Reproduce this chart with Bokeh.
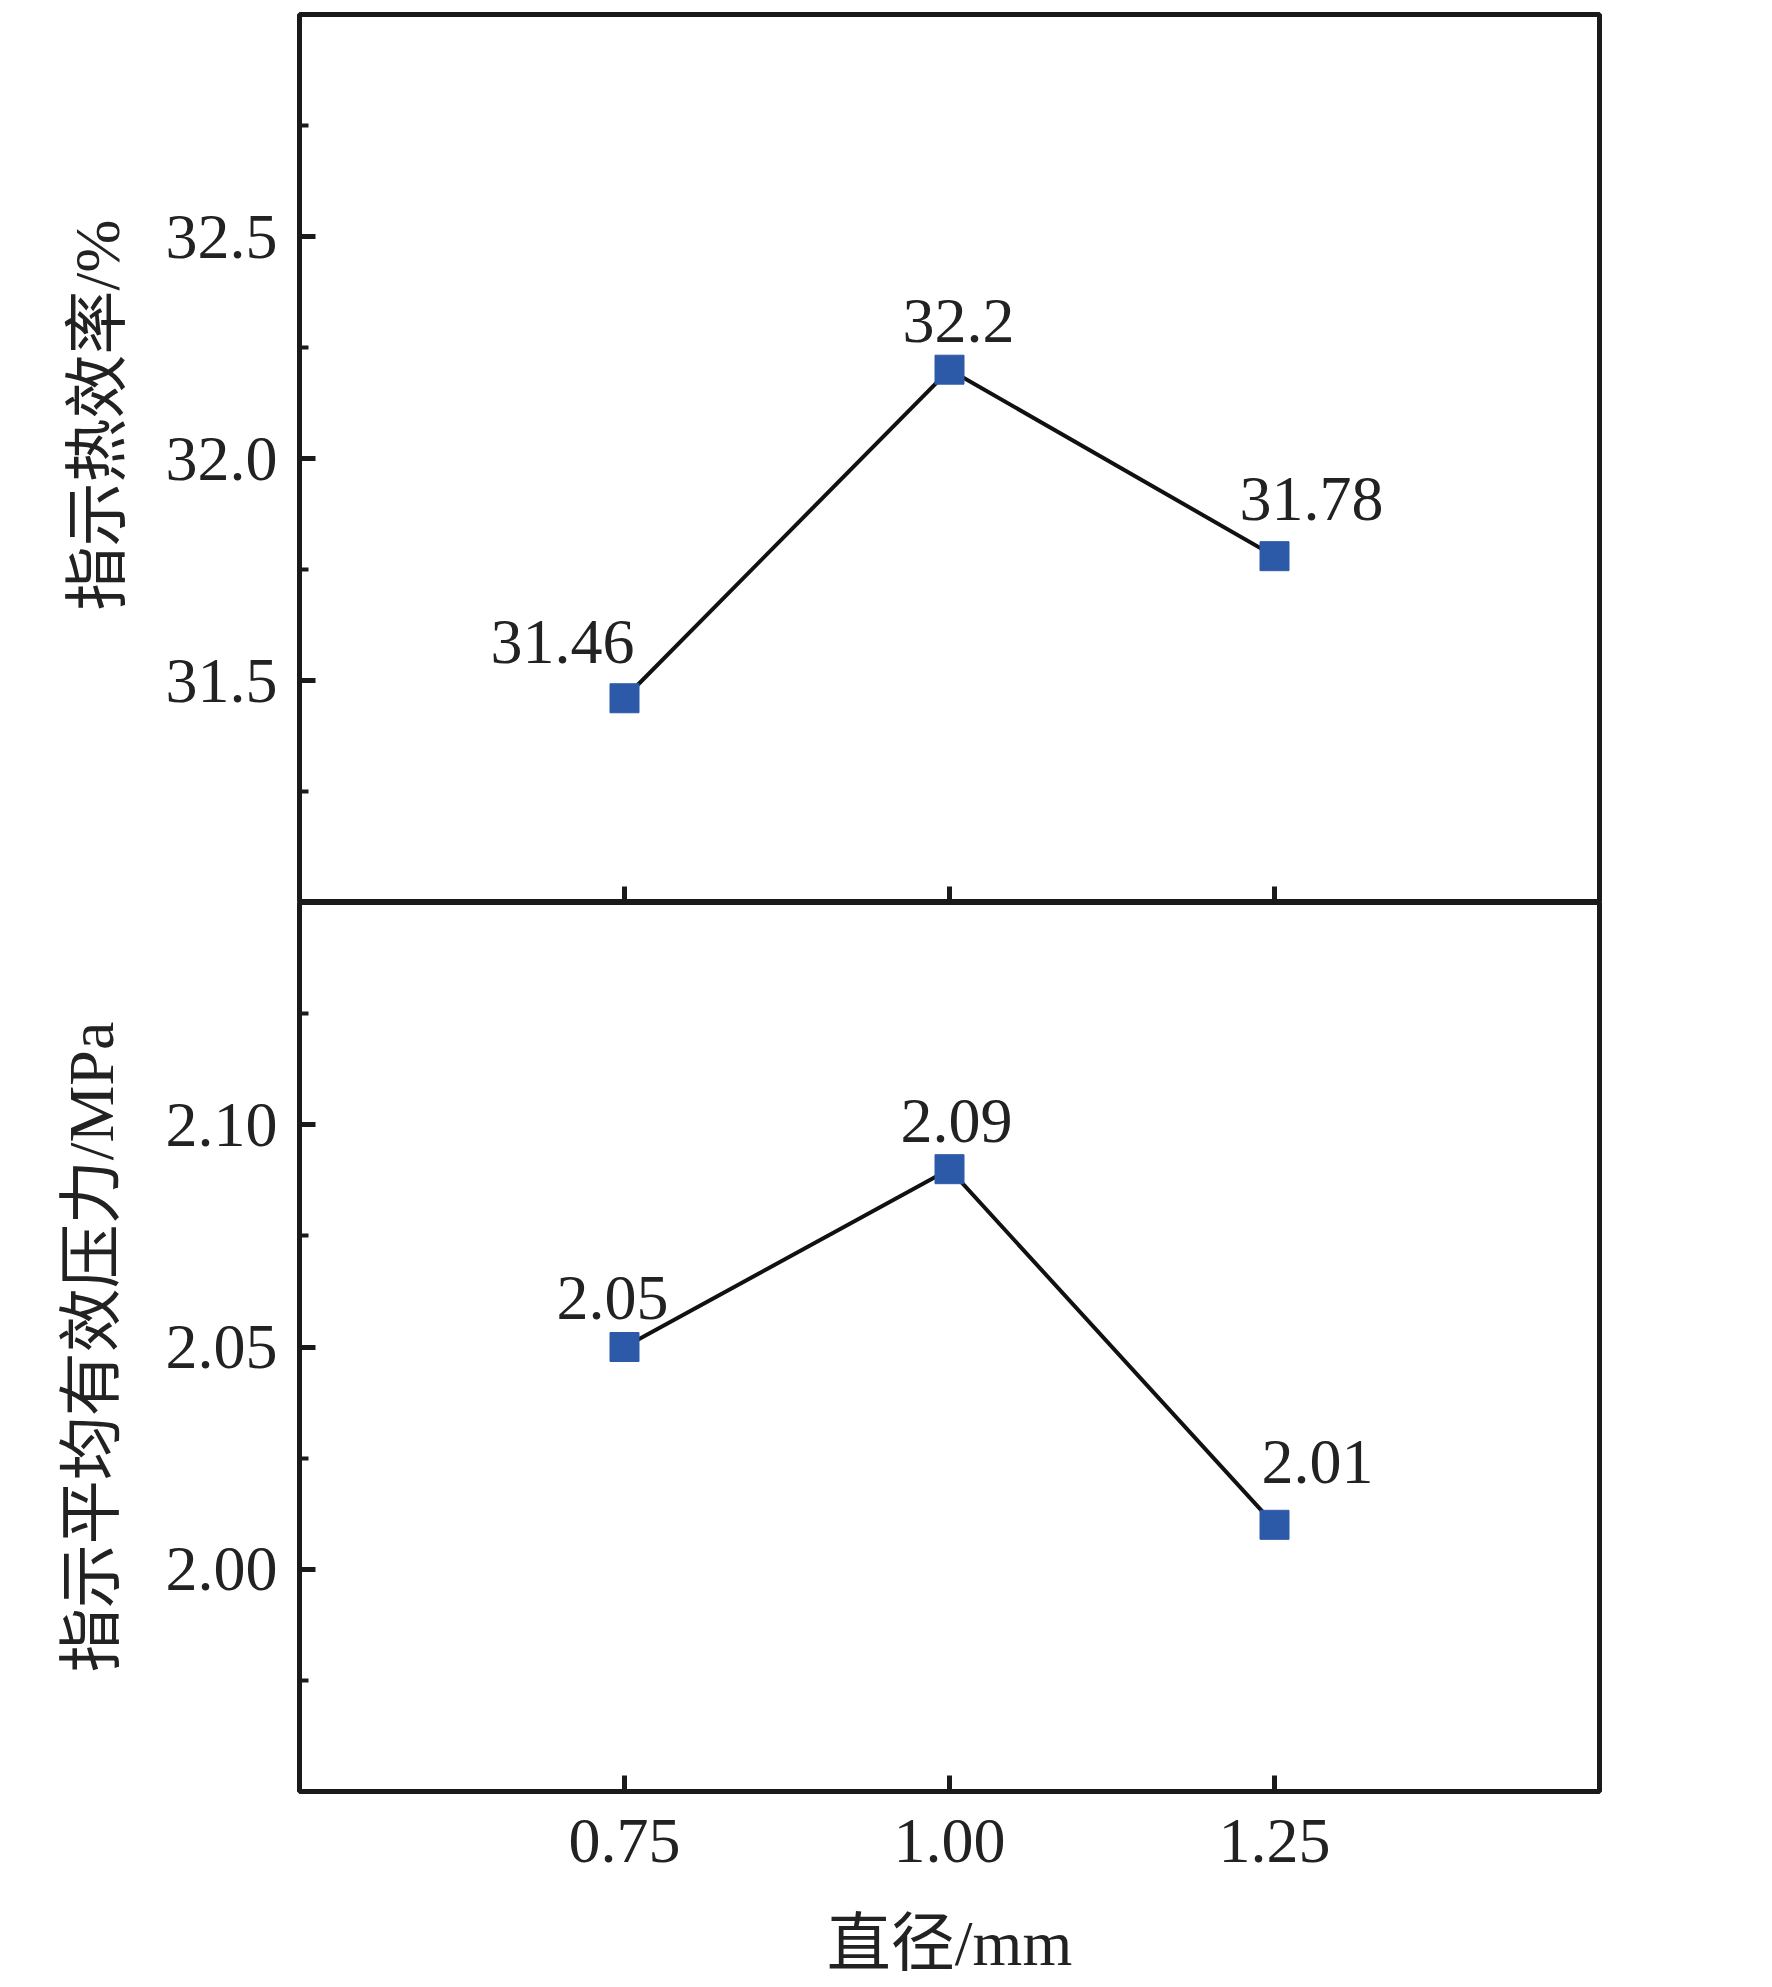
from bokeh.plotting import figure
from bokeh.models import (Range1d, LinearAxis, FixedTicker, NumeralTickFormatter,
                          ColumnDataSource, Title)
from bokeh.layouts import column
from bokeh.embed import file_html
from bokeh.resources import INLINE
from bokeh.core.properties import value

# ---------------- data ----------------
diameter = [0.75, 1.00, 1.25]
efficiency = [31.46, 32.2, 31.78]
imep = [2.05, 2.09, 2.01]
eff_text = ["31.46", "32.2", "31.78"]
imep_text = ["2.05", "2.09", "2.01"]
x_ticks = [0.75, 1.00, 1.25]
eff_ticks = [31.5, 32.0, 32.5]
eff_minor = [31.25, 31.75, 32.25, 32.75]
imep_ticks = [2.00, 2.05, 2.10]
imep_minor = [1.975, 2.025, 2.075, 2.125]
x_label = "直径/mm"
eff_label = "指示热效率/%"
imep_label = "指示平均有效压力/MPa"

# label placement (screen px) relative to each point
eff_dx = [-62, 9, 37]
eff_dy = [-56, -49, -57]
imep_dx = [-12, 7, 43]
imep_dy = [-49, -48, -63]

# ---------------- style ----------------
FONT = "'Liberation Serif', 'Noto Sans CJK SC'"
FS = "64px"
TXT = "#222222"
AX = "#1a1a1a"
BLUE = "#2D5AA8"
W = 1749
LEFT = 299
RIGHT = 150

xr = Range1d(0.5, 1.5)


def style_left_axis(ax, ticks, minor, fmt):
    ax.ticker = FixedTicker(ticks=ticks, minor_ticks=minor)
    ax.formatter = NumeralTickFormatter(format=fmt)
    ax.axis_line_color = None
    ax.major_tick_in = 16
    ax.major_tick_out = 0
    ax.minor_tick_in = 9
    ax.minor_tick_out = 0
    ax.major_tick_line_width = 5
    ax.minor_tick_line_width = 4
    ax.major_tick_line_color = AX
    ax.minor_tick_line_color = AX
    ax.major_label_text_font = FONT
    ax.major_label_text_font_size = FS
    ax.major_label_text_color = TXT
    ax.major_label_standoff = 22
    ax.axis_label_text_font = FONT
    ax.axis_label_text_font_size = FS
    ax.axis_label_text_font_style = "normal"
    ax.axis_label_text_color = TXT
    ax.axis_label_standoff = 36


def base_fig(height, yr, top, bottom, x_axis):
    p = figure(width=W, height=height, x_range=xr, y_range=yr,
               output_backend="svg", toolbar_location=None,
               x_axis_location=x_axis, y_axis_location="left",
               min_border_left=LEFT, min_border_right=RIGHT,
               min_border_top=top, min_border_bottom=bottom)
    p.grid.visible = False
    p.outline_line_color = AX
    p.outline_line_width = 5
    p.outline_line_alpha = 1.0
    p.background_fill_color = "white"
    p.border_fill_color = "white"
    return p


# ---------------- top panel ----------------
p1 = base_fig(902, Range1d(31.0, 33.0), 14, 0, None)
style_left_axis(p1.yaxis[0], eff_ticks, eff_minor, "0.0")
xa1 = LinearAxis(fixed_location=31.0)
xa1.ticker = FixedTicker(ticks=x_ticks, minor_ticks=[])
xa1.major_label_overrides = {t: "" for t in x_ticks}
xa1.axis_line_color = None
xa1.major_tick_in = 16
xa1.major_tick_out = 0
xa1.major_tick_line_width = 5
xa1.major_tick_line_color = AX
p1.add_layout(xa1, "below")

p1.add_layout(Title(text=eff_label, align="left", offset=292, standoff=59,
                    text_font=FONT, text_font_size=FS, text_font_style="normal",
                    text_color=TXT), "left")

src1 = ColumnDataSource(dict(x=diameter, y=efficiency, t=eff_text, dx=eff_dx, dy=eff_dy))
p1.line("x", "y", source=src1, line_color="#111111", line_width=4)
p1.scatter("x", "y", source=src1, marker="square", size=29,
           fill_color=BLUE, line_color=BLUE)
p1.text("x", "y", text="t", source=src1, x_offset="dx", y_offset="dy",
        text_align="center", text_baseline="alphabetic",
        text_font=value(FONT), text_font_size=FS, text_color=TXT)

# ---------------- bottom panel ----------------
p2 = base_fig(1082, Range1d(1.95, 2.15), 0, 193, "below")
style_left_axis(p2.yaxis[0], imep_ticks, imep_minor, "0.00")
p2.yaxis[0].axis_label = imep_label
xa2 = p2.xaxis[0]
xa2.ticker = FixedTicker(ticks=x_ticks, minor_ticks=[])
xa2.formatter = NumeralTickFormatter(format="0.00")
xa2.axis_line_color = None
xa2.major_tick_in = 16
xa2.major_tick_out = 0
xa2.major_tick_line_width = 5
xa2.major_tick_line_color = AX
xa2.major_label_text_font = FONT
xa2.major_label_text_font_size = FS
xa2.major_label_text_color = TXT
xa2.major_label_standoff = 28
xa2.axis_label = x_label
xa2.axis_label_text_font = FONT
xa2.axis_label_text_font_size = FS
xa2.axis_label_text_font_style = "normal"
xa2.axis_label_text_color = TXT
xa2.axis_label_standoff = 43

src2 = ColumnDataSource(dict(x=diameter, y=imep, t=imep_text, dx=imep_dx, dy=imep_dy))
p2.line("x", "y", source=src2, line_color="#111111", line_width=4)
p2.scatter("x", "y", source=src2, marker="square", size=29,
           fill_color=BLUE, line_color=BLUE)
p2.text("x", "y", text="t", source=src2, x_offset="dx", y_offset="dy",
        text_align="center", text_baseline="alphabetic",
        text_font=value(FONT), text_font_size=FS, text_color=TXT)

layout = column(p1, p2, spacing=0)
open("out.html", "w").write(file_html(layout, INLINE))
